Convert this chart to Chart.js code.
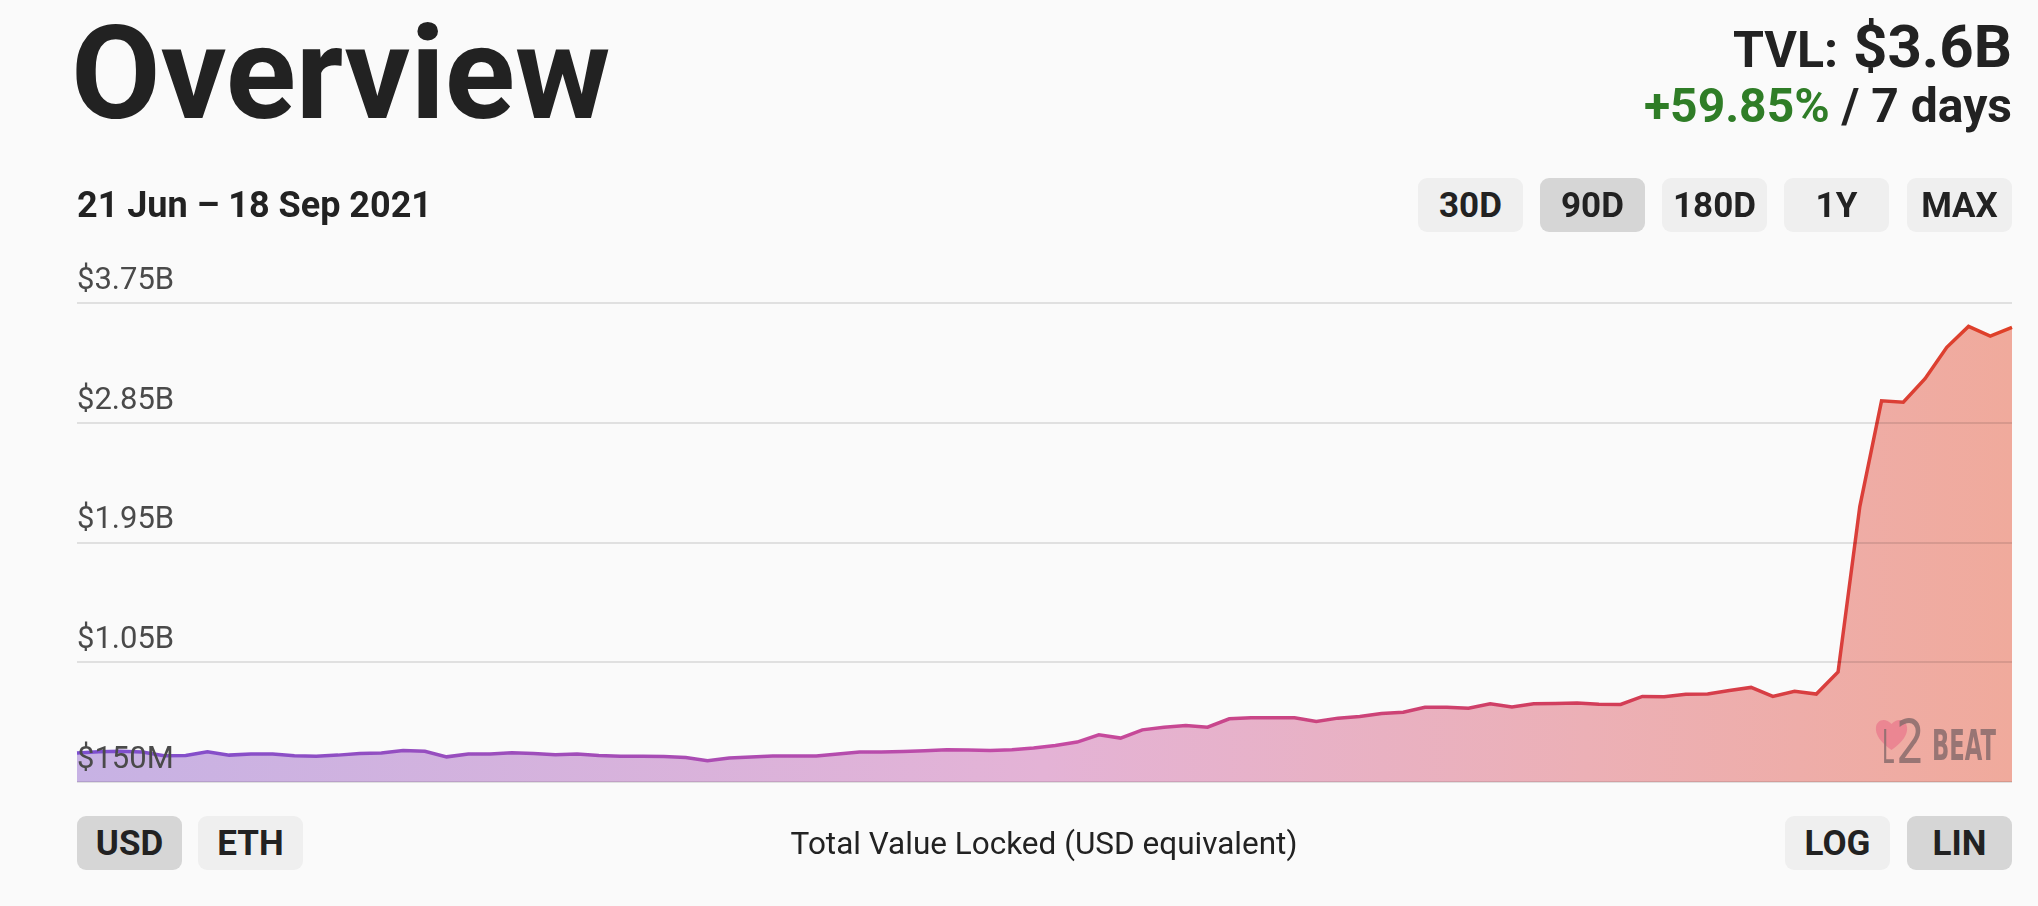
<!DOCTYPE html>
<html>
<head>
<meta charset="utf-8">
<script src="https://cdn.jsdelivr.net/npm/chart.js@4.4.0/dist/chart.umd.min.js"></script>
<style>
  body { margin: 0; background: #fafafa; font-family: Roboto, sans-serif; color: #222; }
  #page { position: relative; width: 2038px; height: 906px; overflow: hidden; }
  #wrap { position: absolute; left: 0; top: 0; width: 2038px; height: 906px; }
  .txt { position: absolute; white-space: nowrap; }
  .btn { position: absolute; width: 105px; height: 54px; border-radius: 9px; background: #efefef;
         display: flex; align-items: center; justify-content: center; font-weight: 700; font-size: 35px; color: #222; }
  .btn.sel { background: #d6d6d6; }
</style>
</head>
<body>
<div id="page">
  <div id="wrap"><canvas id="tvlChart"></canvas></div>

  <div class="txt" style="left:71px;top:9px;font-size:130px;line-height:130px;font-weight:700;">Overview</div>

  <div class="txt" style="right:26px;top:17px;font-size:60px;line-height:60px;font-weight:700;text-align:right;">
    <span style="font-size:50px">TVL:</span> $3.6B
  </div>
  <div class="txt" style="right:26px;top:82px;font-size:48px;line-height:48px;font-weight:700;text-align:right;">
    <span style="color:#2f7d27">+59.85%</span> / 7 days
  </div>

  <div class="txt" style="left:77px;top:187px;font-size:36px;line-height:36px;font-weight:700;">21 Jun – 18 Sep 2021</div>

  <div class="btn" style="left:1418px;top:178px;">30D</div>
  <div class="btn sel" style="left:1540px;top:178px;">90D</div>
  <div class="btn" style="left:1662px;top:178px;">180D</div>
  <div class="btn" style="left:1784px;top:178px;">1Y</div>
  <div class="btn" style="left:1907px;top:178px;">MAX</div>

  <div class="btn sel" style="left:77px;top:816px;">USD</div>
  <div class="btn" style="left:198px;top:816px;">ETH</div>
  <div class="txt" style="left:544px;top:816px;width:1000px;height:54px;display:flex;align-items:center;justify-content:center;font-size:31.5px;">Total Value Locked (USD equivalent)</div>
  <div class="btn" style="left:1785px;top:816px;">LOG</div>
  <div class="btn sel" style="left:1907px;top:816px;">LIN</div>

  <!-- l2beat watermark -->
  <svg style="position:absolute;left:1870px;top:712px;" width="135" height="56" viewBox="0 0 135 56">
    <path d="M21.5 38 C 10 30, 5 22, 6 15 C 7 8, 15 5, 21.5 12 C 28 5, 36 8, 37 15 C 38 22, 33 30, 21.5 38 Z" fill="#ea7f8f" fill-opacity="0.85"/>
    <g fill="#8e6f6f" fill-opacity="0.9" font-family="DejaVu Sans">
      <text x="12" y="51" font-size="46" textLength="12" lengthAdjust="spacingAndGlyphs">L</text>
      <text x="26" y="51" font-size="60" textLength="29" lengthAdjust="spacingAndGlyphs">2</text>
      <text x="62" y="48" font-size="42" font-weight="bold" textLength="64" lengthAdjust="spacingAndGlyphs">BEAT</text>
    </g>
  </svg>
</div>

<script>
// tvl, millions USD, one value per day 21 Jun - 18 Sep 2021
const tvl = [
  368, 378, 381, 376, 347, 349, 378, 352, 360, 360,
  347, 344, 352, 365, 368, 386, 381, 339, 360, 360,
  370, 365, 355, 360, 349, 344, 344, 341, 334, 310,
  330, 337, 345, 345, 345, 360, 375, 375, 380, 385,
  392, 390, 387, 392, 405, 425, 450, 505, 480, 542,
  562, 575, 562, 625, 632, 632, 632, 605, 630, 643,
  665, 675, 712, 712, 704, 738, 714, 738, 740, 743,
  735, 733, 793, 790, 809, 811, 837, 861, 793, 832,
  811, 977, 2220, 3015, 3005, 3181, 3417, 3574, 3501, 3567
];

const tickValues = [150, 1050, 1950, 2850, 3750];
const tickLabels = ['$150M', '$1.05B', '$1.95B', '$2.85B', '$3.75B'];

// days
const days = [];
const start = new Date(Date.UTC(2021, 5, 21));
for (let i = 0; i < tvl.length; i++) {
  const d = new Date(start.getTime() + i * 86400000);
  days.push(d.toISOString().slice(0, 10));
}

function hGradient(chart, stops) {
  const area = chart.chartArea;
  if (!area) return null;
  const g = chart.ctx.createLinearGradient(area.left, 0, area.right, 0);
  stops.forEach(s => g.addColorStop(s[0], s[1]));
  return g;
}

const ctx = document.getElementById('tvlChart');

new Chart(ctx, {
  type: 'line',
  data: {
    labels: days,
    datasets: [{
      data: tvl,
      borderWidth: 3.5,
      pointRadius: 0,
      tension: 0,
      fill: 'start',
      borderColor: (c) => hGradient(c.chart, [[0, '#7c4fcf'], [0.5, '#c44ba4'], [0.78, '#d23d5a'], [1, '#df4027']]),
      backgroundColor: (c) => hGradient(c.chart, [[0, '#c7b2e4'], [0.5, '#e4b3d6'], [0.78, '#ecb0b6'], [1, '#f0aa9c']])
    }]
  },
  options: {
    responsive: true,
    maintainAspectRatio: false,
    animation: false,
    layout: {
      padding: { left: 77, right: 26, top: 303, bottom: 124 }
    },
    plugins: {
      legend: { display: false },
      tooltip: { enabled: false }
    },
    scales: {
      x: { display: false },
      y: {
        min: 150,
        max: 3750,
        border: { display: false },
        grid: { color: 'rgba(0,0,0,0.1)', lineWidth: 2, drawTicks: false, z: 1 },
        afterBuildTicks: (axis) => { axis.ticks = tickValues.map(v => ({ value: v })); },
        ticks: {
          z: 2,
          mirror: true,
          padding: 0,
          labelOffset: -22,
          color: '#4a4a4a',
          font: { family: 'Roboto', size: 31 },
          callback: (v) => tickLabels[tickValues.indexOf(v)]
        }
      }
    }
  }
});
</script>
</body>
</html>
